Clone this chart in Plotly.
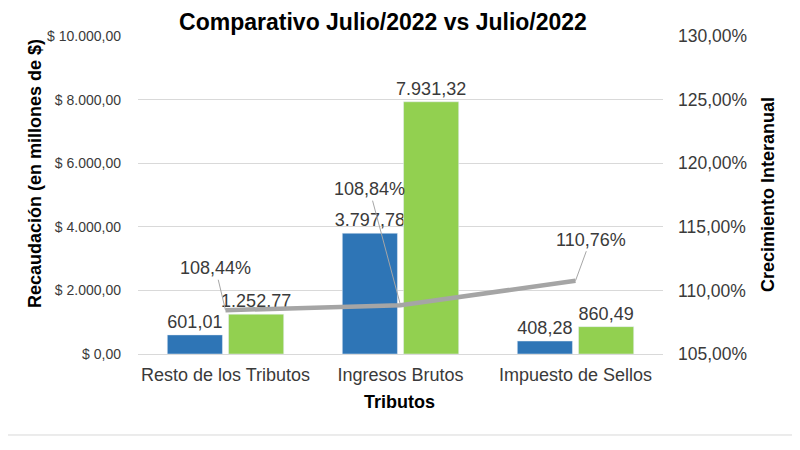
import plotly.graph_objects as go

categories = ["Resto de los Tributos", "Ingresos Brutos", "Impuesto de Sellos"]
julio_prev = [601.01, 3797.78, 408.28]
julio_act = [1252.77, 7931.32, 860.49]
crecimiento = [1.0844, 1.0884, 1.1076]
growth_label_offsets = [(-10, -42), (-31, -116), (15, -41)]

FONT = "Liberation Sans, Arial, sans-serif"
TXT = "#3A3A3A"

fig = go.Figure()
fig.add_trace(go.Bar(
    x=categories, y=julio_prev, name="Julio/2022",
    marker=dict(color="#2E75B6"),
    texttemplate="%{y:,.2f}", textposition="outside", constraintext="none",
    textfont=dict(size=18, color=TXT, family=FONT), cliponaxis=False,
))
fig.add_trace(go.Bar(
    x=categories, y=julio_act, name="Julio/2023",
    marker=dict(color="#92D050"),
    texttemplate="%{y:,.2f}", textposition="outside", constraintext="none",
    textfont=dict(size=18, color=TXT, family=FONT), cliponaxis=False,
))
fig.add_trace(go.Scatter(
    x=categories, y=crecimiento, yaxis="y2", mode="lines",
    line=dict(color="#A5A5A5", width=4.5), name="Crecimiento",
))

for cat, val, (ax, ay) in zip(categories, crecimiento, growth_label_offsets):
    fig.add_annotation(
        x=cat, y=val, xref="x", yref="y2",
        text=f"{val*100:.2f}%".replace(".", ","),
        showarrow=True, arrowhead=0, arrowwidth=1, arrowcolor="#A6A6A6",
        ax=ax, ay=ay, font=dict(size=18, color=TXT, family=FONT),
    )

fig.add_annotation(x=-0.196, y=0.566, xref="paper", yref="paper",
                   xanchor="center", yanchor="middle",
                   text="<b>Recaudación (en millones de $)</b>", textangle=-90,
                   showarrow=False, font=dict(size=18, color="#000", family=FONT))
fig.add_annotation(x=1.2, y=0.5, xref="paper", yref="paper",
                   xanchor="center", yanchor="middle",
                   text="<b>Crecimiento Interanual</b>", textangle=-90,
                   showarrow=False, font=dict(size=18, color="#000", family=FONT))
fig.add_annotation(x=0.499, y=-0.151, xref="paper", yref="paper",
                   xanchor="center", yanchor="middle",
                   text="<b>Tributos</b>", showarrow=False,
                   font=dict(size=18, color="#000", family=FONT))

fig.add_shape(type="line", xref="paper", yref="paper",
              x0=-0.3, x1=1.3, y0=-0.2547, y1=-0.2547,
              line=dict(color="#D9D9D9", width=1))

fig.update_layout(
    width=792, height=442,
    margin=dict(l=130, r=137, t=28, b=96),
    paper_bgcolor="white", plot_bgcolor="white",
    separators=",.",
    showlegend=False,
    barmode="group", bargap=0.3, bargroupgap=0.1,
    title=dict(text="<b>Comparativo Julio/2022 vs Julio/2022</b>",
               x=0.4735, xanchor="center", y=0.987, yanchor="top",
               pad=dict(t=0, b=0),
               font=dict(size=23, color="#000", family=FONT)),
    font=dict(family=FONT, color=TXT),
    xaxis=dict(showgrid=False, showline=True, linecolor="#D9D9D9",
               tickfont=dict(size=18, color=TXT), ticks="", ticklabelstandoff=4),
    yaxis=dict(range=[0, 10000], dtick=2000, tickprefix="$ ", tickformat=",.2f",
               showgrid=True, gridcolor="#D9D9D9", zeroline=False,
               tickfont=dict(size=14, color=TXT), ticks="", ticklabelstandoff=16),
    yaxis2=dict(range=[1.05, 1.30], dtick=0.05, tickformat=".2%",
                overlaying="y", side="right", showgrid=False, zeroline=False,
                tickfont=dict(size=17.5, color=TXT), ticks="", ticklabelstandoff=14),
)

fig.write_html("out.html")
